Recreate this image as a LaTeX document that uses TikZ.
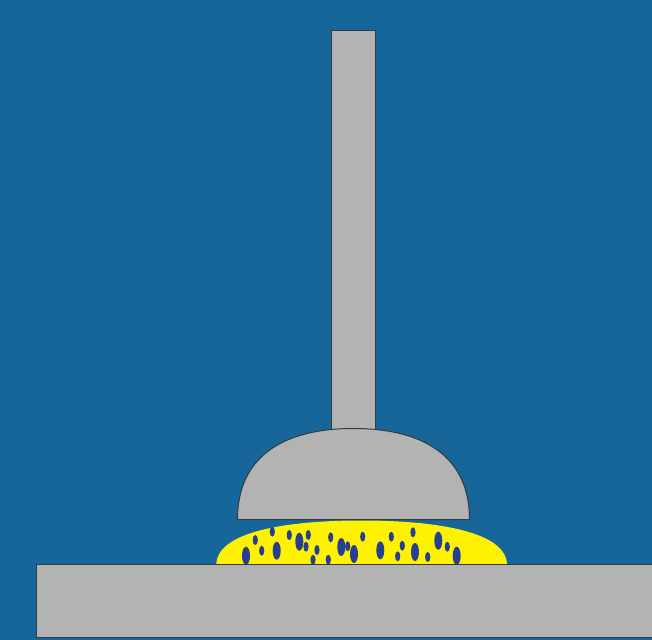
\documentclass[tikz,border=0pt]{standalone}
\definecolor{bgblue}{HTML}{17669A}
\definecolor{partgray}{HTML}{B3B3B3}
\definecolor{edgegray}{HTML}{333A40}
\definecolor{meltyellow}{HTML}{FFF200}
\definecolor{bubble}{HTML}{263F92}
\tikzset{
  part/.style={fill=partgray,draw=edgegray,line width=1bp,line join=miter},
  melt/.style={fill=meltyellow,draw=none},
  bigb/.style={fill=bubble,draw=none,x radius=4bp,y radius=9bp},
  smallb/.style={fill=bubble,draw=none,x radius=2.6bp,y radius=5bp}
}
\begin{document}
\begin{tikzpicture}[x=1bp,y=-1bp]
\useasboundingbox (0,0) rectangle (652,640);
\fill[bgblue] (0,0) rectangle (652,640);
% stem
\path[part] (331.5,30.5) rectangle (375.7,432);
% dome
\path[part] (237.5,519.5) .. controls (237.5,459) and (280,428.5) .. (353.5,428.5)
  .. controls (427,428.5) and (469.5,459) .. (469.5,519.5) -- cycle;
% melt
\path[melt] (216.3,565) .. controls (216.3,532) and (285,520.5) .. (361.5,520.5)
  .. controls (438,520.5) and (507,532) .. (507,565) -- cycle;
% big bubbles
\foreach \x/\y in {246/555.7,276.7/550.7,299.3/541.7,341.3/547,354/554,380.3/550.3,415/552,438.3/540.7,456.7/555.7}
  \path[bigb] (\x,\y) ellipse [];
% small bubbles
\foreach \x/\y in {255.3/540,261.7/550.7,272.3/531.7,289.3/535,308.3/535,306/546.7,317/550,313/559.7,330.7/537.3,328.3/559.7,347.7/546.3,362.7/536.7,391.3/536.7,402.3/545.7,397.7/556.3,413/532.3,427.7/557,447.3/546.7}
  \path[smallb] (\x,\y) ellipse [];
% base
\path[part] (36.5,564.8) -- (653,564.8) -- (653,637.5) -- (36.5,637.5) -- cycle;
\end{tikzpicture}
\end{document}
